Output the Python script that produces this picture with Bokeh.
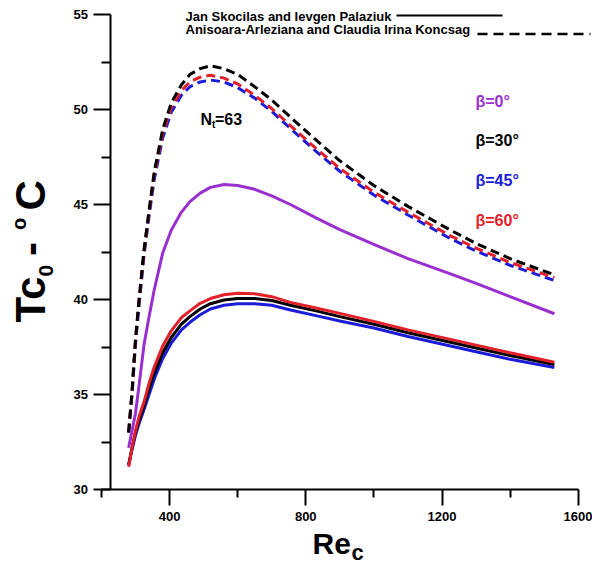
from bokeh.plotting import figure
from bokeh.models import Range1d, FixedTicker, Label, LinearAxis
from bokeh.embed import file_html
from bokeh.resources import INLINE

# ---------------- data ----------------
re_c = [280, 290, 300, 310, 325, 340, 355, 380, 405, 435, 460, 490, 520,
        560, 600, 650, 700, 755, 830, 900, 1000, 1100, 1225, 1300, 1400, 1530]

# Jan Skocilas and Ievgen Palaziuk (solid)
sk_beta0 = [32.2, 33.1, 34.0, 35.4, 37.6, 39.1, 40.5, 42.45, 43.65, 44.6, 45.15, 45.6, 45.9,
            46.05, 46.0, 45.8, 45.45, 45.0, 44.3, 43.68, 42.9, 42.15, 41.35, 40.85, 40.15, 39.25]
sk_beta30 = [31.3, 32.2, 33.0, 33.6, 34.4, 35.3, 36.1, 37.2, 38.0, 38.7, 39.1, 39.5, 39.78,
             39.97, 40.05, 40.05, 39.95, 39.7, 39.4, 39.1, 38.7, 38.25, 37.75, 37.45, 37.05, 36.58]
sk_beta45 = [31.3, 32.1, 32.85, 33.45, 34.2, 35.0, 35.8, 36.9, 37.7, 38.4, 38.8, 39.2, 39.5,
             39.7, 39.78, 39.78, 39.7, 39.45, 39.15, 38.87, 38.5, 38.05, 37.55, 37.25, 36.85, 36.42]
sk_beta60 = [31.2, 32.2, 33.1, 33.8, 34.6, 35.6, 36.45, 37.55, 38.35, 39.05, 39.4, 39.8, 40.05,
             40.25, 40.33, 40.3, 40.15, 39.85, 39.55, 39.27, 38.85, 38.4, 37.9, 37.6, 37.2, 36.7]

# Anisoara-Arleziana and Claudia Irina Koncsag (dashed)
ko_beta30 = [33.0, 35.2, 37.9, 39.9, 42.6, 44.7, 46.7, 48.95, 50.35, 51.3, 51.85, 52.15, 52.3,
             52.15, 51.85, 51.2, 50.5, 49.6, 48.4, 47.3, 46.0, 44.9, 43.65, 42.95, 42.15, 41.3]
ko_beta60 = [33.0, 35.1, 37.8, 39.8, 42.5, 44.6, 46.55, 48.75, 50.1, 51.0, 51.45, 51.7, 51.8,
             51.65, 51.35, 50.75, 50.05, 49.15, 47.95, 46.9, 45.65, 44.6, 43.35, 42.7, 41.95, 41.15]
ko_beta45 = [33.0, 35.0, 37.6, 39.6, 42.3, 44.4, 46.3, 48.5, 49.85, 50.75, 51.2, 51.45, 51.55,
             51.45, 51.15, 50.6, 49.9, 49.0, 47.8, 46.75, 45.5, 44.45, 43.2, 42.55, 41.8, 41.0]

x_ticks = [400, 800, 1200, 1600]
x_minor = [200, 600, 1000, 1400]
y_ticks = [30, 35, 40, 45, 50, 55]
y_minor = [32.5, 37.5, 42.5, 47.5, 52.5]

legend_solid = "Jan Skocilas and Ievgen Palaziuk"
legend_dashed = "Anisoara-Arleziana and Claudia Irina Koncsag"
beta_labels = ["β=0°", "β=30°", "β=45°", "β=60°"]

# ---------------- layout ----------------
PURPLE = "#9a2fcf"
BLACK = "#000000"
BLUE = "#1c1cd8"
RED = "#e2202a"
FONT = "Liberation Sans"

W, H = 592, 564
PX200, XS = 100.9, 0.3406     # pixel of Re=200, pixels per unit
PY30, YS = 489.0, 19.0        # pixel of Tc=30, pixels per unit
BASE_K = 0.3                  # correction of label baseline placement (em)


def dx(px):
    return 200 + (px - PX200) / XS


def dy(py):
    return 30 + (PY30 - py) / YS


p = figure(frame_width=W, frame_height=H, min_border=0,
           x_range=Range1d(dx(0), dx(W)), y_range=Range1d(dy(H), dy(0)),
           x_axis_location=None, y_axis_location=None,
           output_backend="svg", toolbar_location=None)
p.outline_line_color = None
p.xgrid.visible = False
p.ygrid.visible = False
p.background_fill_color = "white"
p.border_fill_color = "white"

xa = LinearAxis(ticker=FixedTicker(ticks=x_ticks, minor_ticks=x_minor),
                bounds=(200, 1600), fixed_location=30)
ya = LinearAxis(ticker=FixedTicker(ticks=y_ticks, minor_ticks=y_minor),
                bounds=(30, 55), fixed_location=dx(109.5))
for ax in (xa, ya):
    ax.axis_line_width = 2
    ax.axis_line_color = "black"
    ax.major_tick_line_width = 2
    ax.minor_tick_line_width = 2
    ax.major_tick_in = 0
    ax.minor_tick_in = 0
    ax.major_label_text_font = FONT
    ax.major_label_text_font_style = "bold"
    ax.major_label_text_font_size = "13px"
    ax.major_label_text_color = "black"
xa.major_tick_out = 16
xa.minor_tick_out = 8
xa.major_label_standoff = 6
ya.major_tick_out = 17
ya.minor_tick_out = 9
ya.major_label_standoff = 5
p.add_layout(xa, "below")
p.add_layout(ya, "left")

# curves
DASH = "9 5"
p.line(re_c, ko_beta45, line_color=BLUE, line_width=3, line_dash=DASH)
p.line(re_c, ko_beta60, line_color=RED, line_width=3, line_dash=DASH)
p.line(re_c, ko_beta30, line_color=BLACK, line_width=3, line_dash=DASH)
p.line(re_c, sk_beta45, line_color=BLUE, line_width=3)
p.line(re_c, sk_beta30, line_color=BLACK, line_width=3)
p.line(re_c, sk_beta60, line_color=RED, line_width=3)
p.line(re_c, sk_beta0, line_color=PURPLE, line_width=3)


def lab(px, py, text, size, color="black", angle=0, style="bold"):
    if angle == 0:
        py = py - BASE_K * size
    else:
        px = px - BASE_K * size
    p.add_layout(Label(x=dx(px), y=dy(py), text=text, text_font=FONT,
                       text_font_style=style, text_font_size=f"{size}px",
                       text_color=color, text_align="left", text_baseline="alphabetic",
                       angle=angle, angle_units="deg"))


# legend (text + sample line)
lab(185, 19.5, legend_solid, 13)
lab(185, 32.5, legend_dashed, 13)
p.segment(x0=[dx(396)], y0=[dy(15)], x1=[dx(502)], y1=[dy(15)], line_color="black", line_width=2)
p.segment(x0=[dx(477)], y0=[dy(33.5)], x1=[dx(590)], y1=[dy(33.5)], line_color="black",
          line_width=2.5, line_dash="10 6")

# beta labels
for t, c, py in zip(beta_labels, [PURPLE, BLACK, BLUE, RED], [106, 145, 185, 225]):
    lab(475, py, t, 16, c)

# N_t = 63
lab(200, 124, "N", 16)
lab(211.5, 127, "t", 10)
lab(214.5, 124, "=63", 16)

# axis titles
lab(312, 551.7, "Re", 30)
lab(351, 558.3, "c", 22)

lab(43, 322, "Tc", 42, angle=90)
lab(52, 276, "0", 21, angle=90)
lab(43, 255.5, "-", 42, angle=90)
lab(24, 229.5, "o", 20, angle=90)
lab(43, 210, "C", 42, angle=90)

open("out.html", "w").write(file_html(p, INLINE))
